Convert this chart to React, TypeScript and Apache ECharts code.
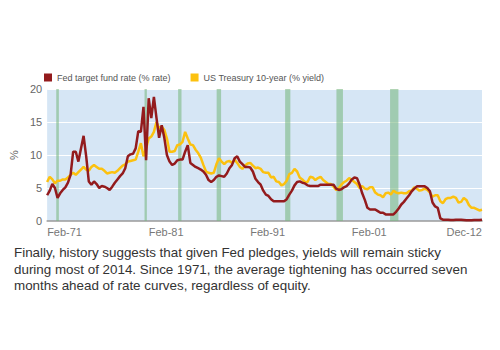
import React, { useEffect, useRef } from "react";
import * as echarts from "echarts";

// Quarterly observations, Q1 1971 .. Q4 2012
const years: number[] = [];
for (let y = 1971; y <= 2012; y++) years.push(y);
const categories: string[] = [];
years.forEach((y) => {
  ["Q1", "Q2", "Q3", "Q4"].forEach((q) => categories.push(q + "-" + String(y).slice(2)));
});

const tickLabels = ["Feb-71", "Feb-81", "Feb-91", "Feb-01", "Dec-12"];
const tickIndex = [0, 39, 78, 117, 167];

const fedRate = [
  3.9, 4.6, 5.6, 5.0,
  3.5, 4.2, 4.7, 5.1,
  5.8, 7.0, 10.5, 10.5,
  9.0, 11.0, 12.9, 9.8,
  6.0, 5.5, 6.0, 5.6,
  5.0, 5.3, 5.2, 5.0,
  4.7, 5.2, 5.8, 6.3,
  6.8, 7.2, 8.0, 9.8,
  10.1, 10.2, 11.0, 13.6,
  13.5, 17.3, 9.2, 18.6,
  15.6, 18.8, 15.6, 12.6,
  14.5, 12.6, 10.0, 9.0,
  8.5, 8.7, 9.2, 9.3,
  9.3, 10.5, 11.5, 8.8,
  8.5, 8.2, 8.0, 7.8,
  7.5, 7.0, 6.2, 5.9,
  6.2, 6.7, 6.9, 6.8,
  6.7, 7.2, 8.0, 8.5,
  9.5, 9.8, 9.0, 8.6,
  8.2, 8.2, 8.1, 7.5,
  6.4, 5.9, 5.5, 4.6,
  4.0, 3.8, 3.3, 3.0,
  3.0, 3.0, 3.0, 3.0,
  3.3, 4.0, 4.6, 5.4,
  5.9, 6.0, 5.8, 5.7,
  5.4, 5.3, 5.3, 5.3,
  5.3, 5.5, 5.5, 5.5,
  5.5, 5.5, 5.5, 4.9,
  4.7, 4.8, 5.1, 5.3,
  5.7, 6.3, 6.6, 6.5,
  5.5, 4.2, 3.2, 2.0,
  1.75, 1.75, 1.75, 1.5,
  1.25, 1.25, 1.0, 1.0,
  1.0, 1.0, 1.4, 1.9,
  2.5, 2.9, 3.4, 3.9,
  4.5, 4.9, 5.25, 5.25,
  5.25, 5.25, 5.0, 4.5,
  2.8, 2.2, 2.0, 0.4,
  0.2, 0.2, 0.2, 0.15,
  0.15, 0.2, 0.2, 0.2,
  0.15, 0.1, 0.1, 0.1,
  0.15, 0.15, 0.15, 0.2,
];

const treasury10y = [
  5.9, 6.7, 6.3, 5.7,
  6.1, 6.1, 6.3, 6.3,
  6.6, 7.0, 7.3, 7.0,
  7.4, 7.8, 8.2, 7.8,
  7.6, 8.2, 8.5, 8.2,
  7.9, 7.9, 7.6, 7.2,
  7.3, 7.4, 7.3, 7.6,
  8.0, 8.4, 8.6, 9.0,
  9.1, 9.2, 9.3, 10.5,
  11.8, 9.8, 11.0, 12.5,
  12.8, 13.5, 15.0, 14.0,
  14.3, 13.8, 12.5, 10.5,
  10.5, 10.6, 11.5, 11.6,
  12.0, 13.5, 12.5, 11.6,
  11.5, 10.8, 10.3, 9.6,
  8.5, 7.5, 7.3, 7.2,
  7.3, 8.6, 9.5, 9.0,
  8.6, 9.0, 9.1, 8.8,
  9.3, 8.8, 8.2, 7.9,
  8.4, 8.7, 8.8, 8.4,
  8.0, 8.1, 7.9, 7.4,
  7.3, 7.3, 6.6, 6.7,
  6.0, 5.9, 5.4, 5.6,
  6.1, 7.1, 7.3, 7.9,
  7.5, 6.6, 6.3, 5.9,
  5.9, 6.7, 6.6, 6.2,
  6.5, 6.7, 6.2, 5.9,
  5.6, 5.6, 5.2, 4.7,
  5.0, 5.5, 5.9, 6.1,
  6.5, 6.2, 5.9, 5.6,
  5.0, 5.3, 4.9, 4.8,
  5.1, 5.1, 4.3, 4.0,
  3.9, 3.6, 4.2, 4.3,
  4.0, 4.6, 4.3, 4.2,
  4.3, 4.2, 4.2, 4.5,
  4.6, 5.1, 4.9, 4.6,
  4.7, 4.9, 4.7, 4.3,
  3.7, 3.9, 3.9, 3.0,
  2.7, 3.3, 3.5, 3.5,
  3.7, 3.5, 2.8, 2.9,
  3.5, 3.2, 2.4, 2.0,
  2.0, 1.8, 1.6, 1.7,
];

// shaded periods, in quarter-index units
const bandStart = [3.5, 37.4, 50.3, 65.1, 91.4, 111.1, 131.7];
const bandEnd = [4.5, 38.3, 51.6, 66.8, 93.4, 113.6, 134.9];

const paragraph = [
  "Finally, history suggests that given Fed pledges, yields will remain sticky",
  "during most of 2014. Since 1971, the average tightening has occurred seven",
  "months ahead of rate curves, regardless of equity.",
];

const FONT = "'Liberation Sans', Arial, Helvetica, sans-serif";

export default function App() {
  const ref = useRef<HTMLDivElement>(null);
  useEffect(() => {
    if (!ref.current) return;
    const chart = echarts.init(ref.current, undefined, { renderer: "svg" });
    chart.setOption({
      animation: false,
      backgroundColor: "#ffffff",
      textStyle: { fontFamily: FONT },
      legend: {
        left: 39,
        top: 68,
        itemWidth: 8,
        itemHeight: 8,
        itemGap: 20,
        icon: "rect",
        textStyle: { color: "#555", fontSize: 9, fontFamily: FONT },
        data: ["Fed target fund rate (% rate)", "US Treasury 10-year (% yield)"],
      },
      grid: {
        left: 43,
        right: 18,
        top: 89,
        bottom: 129,
        show: true,
        backgroundColor: "#d6e6f5",
        borderWidth: 0,
      },
      xAxis: [
        {
          type: "category",
          data: categories,
          boundaryGap: false,
          axisLine: { show: true, lineStyle: { color: "#9a9a9a", width: 1.5 } },
          axisTick: { show: false },
          splitLine: { show: false },
          axisLabel: {
            interval: 0,
            margin: 5,
            color: "#777",
            fontSize: 11,
            fontFamily: FONT,
            formatter: (_v: string, idx: number) => {
              const k = tickIndex.indexOf(idx);
              return k >= 0 ? tickLabels[k] : "";
            },
            align: "left",
            alignMaxLabel: "right",
            showMaxLabel: true,
          },
        },
        {
          type: "value",
          min: 0,
          max: 167,
          show: false,
        },
      ],
      yAxis: {
        type: "value",
        min: 0,
        max: 20,
        interval: 5,
        name: "%",
        nameLocation: "middle",
        nameGap: 22,
        nameRotate: 90,
        nameTextStyle: { color: "#666", fontSize: 11, fontFamily: FONT },
        axisLine: { show: false },
        axisTick: { show: false },
        axisLabel: { color: "#666", fontSize: 11, margin: 5, fontFamily: FONT },
        splitLine: { show: true, lineStyle: { color: "#ffffff", width: 1.2 } },
      },
      series: [
        {
          name: "US Treasury 10-year (% yield)",
          type: "line",
          data: treasury10y,
          showSymbol: false,
          symbol: "none",
          z: 2,
          lineStyle: { color: "#fcc10f", width: 2.5 },
          itemStyle: { color: "#fcc10f" },
        },
        {
          name: "Fed target fund rate (% rate)",
          type: "line",
          data: fedRate,
          showSymbol: false,
          symbol: "none",
          z: 3,
          lineStyle: { color: "#931b1d", width: 2.5 },
          itemStyle: { color: "#931b1d" },
        },
        {
          name: "bands",
          type: "line",
          xAxisIndex: 1,
          data: [],
          z: 5,
          silent: true,
          markArea: {
            silent: true,
            itemStyle: { color: "rgba(120,182,128,0.58)" },
            data: bandStart.map((s, i) => [{ xAxis: s }, { xAxis: bandEnd[i] }]),
          },
        },
      ],
      graphic: [
        {
          type: "text",
          left: 14,
          top: 244,
          style: {
            text: paragraph.join("\n"),
            fill: "#333",
            font: "13.4px " + FONT,
            lineHeight: 16.7,
          },
        },
      ],
    });
    return () => chart.dispose();
  }, []);
  return (
    <div
      ref={ref}
      style={{ position: "absolute", left: 0, top: 0, width: 500, height: 350 }}
    />
  );
}
